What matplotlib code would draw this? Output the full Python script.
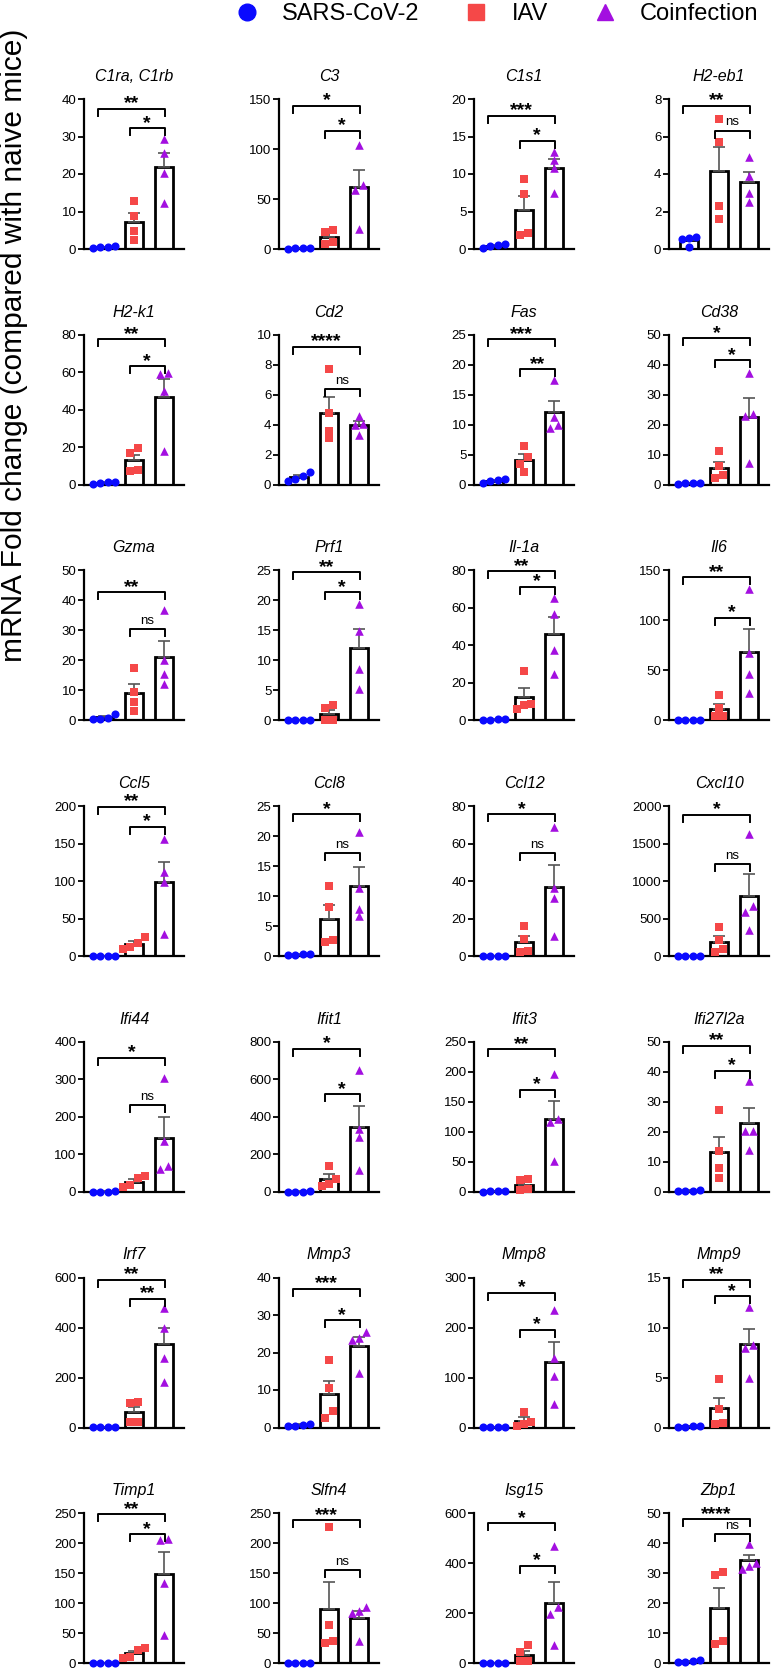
"""Fold change of 28 genes: SARS-CoV-2 vs IAV vs coinfection (bar + scatter + brackets)."""
import numpy as np
import matplotlib
matplotlib.use("Agg")
import matplotlib.pyplot as plt
from matplotlib import font_manager
from matplotlib.lines import Line2D

names = {f.name for f in font_manager.fontManager.ttflist}
NARROW = "Liberation Sans Narrow" if "Liberation Sans Narrow" in names else "Liberation Sans"
plt.rcParams["font.family"] = ["Liberation Sans", "DejaVu Sans"]

C_SARS, C_IAV, C_CO = "#0a0aff", "#f54848", "#a30fe0"

genes = ["C1ra, C1rb", "C3", "C1s1", "H2-eb1",
         "H2-k1", "Cd2", "Fas", "Cd38",
         "Gzma", "Prf1", "Il-1a", "Il6",
         "Ccl5", "Ccl8", "Ccl12", "Cxcl10",
         "Ifi44", "Ifit1", "Ifit3", "Ifi27l2a",
         "Irf7", "Mmp3", "Mmp8", "Mmp9",
         "Timp1", "Slfn4", "Isg15", "Zbp1"]
ymax = [40, 150, 20, 8, 80, 10, 25, 50, 50, 25, 80, 150, 200, 25, 80, 2000,
        400, 800, 250, 50, 600, 40, 300, 15, 250, 250, 600, 50]
ystep = [10, 50, 5, 2, 20, 2, 5, 10, 10, 5, 20, 50, 50, 5, 20, 500,
         100, 200, 50, 10, 200, 10, 100, 5, 50, 50, 200, 10]

sars = [[0.4, 0.5, 0.6, 0.7], [0.5, 0.8, 1.0, 1.2], [0.15, 0.45, 0.6, 0.65], [0.65, 0.6, 0.55, 0.1],
        [0.5, 1.2, 1.6, 1.0], [0.85, 0.6, 0.35, 0.25], [0.3, 0.6, 0.8, 0.9], [0.2, 0.5, 0.6, 0.7],
        [2.2, 0.8, 0.6, 0.5], [0.02, 0.02, 0.03, 0.02], [0.3, 0.5, 0.6, 0.4], [0.1, 0.2, 0.15, 0.1],
        [0.3, 0.5, 0.4, 0.2], [0.1, 0.3, 0.4, 0.2], [0.1, 0.2, 0.15, 0.1], [1, 2, 1.5, 1],
        [0.5, 1, 0.8, 0.6], [1, 2, 1.5, 1], [0.5, 1, 0.8, 0.6], [0.3, 0.4, 0.4, 0.5],
        [0.5, 1, 0.8, 0.6], [0.5, 0.8, 1.0, 0.4], [0.3, 0.6, 0.5, 0.4], [0.1, 0.2, 0.15, 0.05],
        [0.3, 0.5, 0.4, 0.2], [0.3, 0.5, 0.4, 0.2], [0.5, 1, 0.8, 0.6], [0.4, 1.0, 0.7, 0.5]]
iav = [[12.9, 8.7, 4.7, 2.4], [19, 17, 7, 5], [9.3, 7.3, 2.2, 1.9], [6.95, 5.7, 2.3, 1.6],
       [19.5, 17, 8, 7.5], [7.7, 4.8, 3.6, 3.1], [6.4, 4.6, 3.5, 2.1], [11.2, 6.1, 3.1, 2.2],
       [17.6, 9.4, 6.1, 3.3], [2.0, 2.5, 0.05, 0.05], [26.3, 8.9, 8.0, 6.2], [25, 12, 4, 4],
       [25, 18, 12, 10], [11.7, 8.1, 2.6, 2.3], [16.1, 9.3, 2.7, 2.2], [390, 220, 100, 60],
       [42, 36, 18, 12], [137, 69, 39, 30], [21, 19, 4, 3], [27.2, 13.6, 7.8, 4.7],
       [101, 99, 24, 24], [18, 10.5, 4.3, 2.5], [32, 12, 8, 4], [4.9, 1.9, 0.43, 0.4],
       [26, 22, 11, 8], [227, 63, 33, 37], [72, 44, 8, 8], [29.5, 30.3, 6.5, 7.5]]
coinf = [[29.3, 25.7, 20.3, 12.3], [103.7, 64.4, 58.7, 19.8], [12.9, 11.9, 10.8, 7.5], [4.9, 3.9, 3.0, 2.5],
         [59.8, 59.3, 50, 17.9], [4.58, 4.06, 3.97, 3.3], [17.5, 11.3, 10.0, 9.4], [37.2, 23.5, 22.9, 7.3],
         [36.9, 20, 15.6, 12], [19.4, 14.9, 8.6, 5.3], [65.4, 56.9, 37.7, 24.5], [131.7, 67.3, 46.7, 27.3],
         [155.7, 111.9, 98.4, 29], [20.7, 11.3, 7.9, 6.6], [68.9, 36.1, 30.8, 10.7], [1633, 671, 582, 345],
         [304, 135, 62, 68], [652, 333, 290, 114], [195.6, 120.6, 116.7, 52], [37.1, 20.2, 20.2, 14.1],
         [477, 400, 280, 181], [25.4, 23.8, 23.4, 14.5], [235, 139, 104, 47], [12.1, 8.3, 8.0, 5.0],
         [205.6, 206.7, 133.3, 47.2], [93, 87, 83, 37], [468, 224, 196, 72], [39.7, 33.5, 32.5, 31.5]]

# significance: SARS-CoV-2 vs coinfection, IAV vs coinfection
sig_sars = ["**", "*", "***", "**", "**", "****", "***", "*", "**", "**", "**", "**", "**", "*",
            "*", "*", "*", "*", "**", "**", "**", "***", "*", "**", "**", "***", "*", "****"]
sig_iav = ["*", "*", "*", "ns", "*", "ns", "**", "*", "ns", "*", "*", "*", "*", "ns",
           "ns", "ns", "ns", "*", "*", "*", "**", "*", "*", "*", "*", "ns", "*", "ns"]
# bracket heights as fraction of the axis maximum
br_top = [0.933, 0.955, 0.89, 0.955, 0.97, 0.92, 0.97, 0.975, 0.855, 0.987, 0.995, 0.955, 0.995, 0.945,
          0.946, 0.94, 0.893, 0.953, 0.95, 0.975, 0.985, 0.925, 0.9, 0.985, 0.993, 0.953, 0.933, 0.96]
br_low = [0.805, 0.79, 0.72, 0.79, 0.79, 0.64, 0.77, 0.83, 0.61, 0.853, 0.89, 0.685, 0.86, 0.69,
          0.69, 0.615, 0.578, 0.65, 0.68, 0.805, 0.86, 0.715, 0.65, 0.875, 0.86, 0.62, 0.65, 0.86]


def swarm(vals, top, gap=0.05, step=0.24):
    vals = np.asarray(vals, float)
    order = np.argsort(vals)
    offs = np.zeros(len(vals))
    groups = [[order[0]]]
    for i in order[1:]:
        if vals[i] - vals[groups[-1][-1]] < gap * top:
            groups[-1].append(i)
        else:
            groups.append([i])
    for g in groups:
        for k, i in enumerate(g):
            offs[i] = (k - (len(g) - 1) / 2) * step
    return offs


def bracket(ax, x0, x1, y, top, label):
    h = top * 7 / 150
    ax.plot([x0, x0, x1, x1], [y - h, y, y, y - h], color="k", lw=1.4, clip_on=False, zorder=5)
    if label == "ns":
        ax.annotate(label, ((x0 + x1) / 2, y), xytext=(0, 1.5), textcoords="offset points",
                    ha="center", va="bottom", fontsize=9.5, family=NARROW)
    else:
        # the asterisk sits high in its line box, so pull the box down a little
        ax.annotate(label, ((x0 + x1) / 2, y), xytext=(0, -2.5), textcoords="offset points",
                    ha="center", va="bottom", fontsize=14, fontweight="bold")


W, H = 773, 1668
fig = plt.figure(figsize=(W / 100, H / 100), dpi=100)
markers = [("o", C_SARS, 34), ("s", C_IAV, 28), ("^", C_CO, 38)]

for k, gene in enumerate(genes):
    r, c = divmod(k, 4)
    left, top_px = 84 + 195 * c, 99 + 235.7 * r
    ax = fig.add_axes([left / W, 1 - (top_px + 150) / H, 100 / W, 150 / H])
    top = ymax[k]
    groups = [sars[k], iav[k], coinf[k]]
    for x, (vals, (m, col, s)) in enumerate(zip(groups, markers)):
        vals = np.asarray(vals, float)
        mean = vals.mean()
        sem = vals.std(ddof=1) / np.sqrt(len(vals))
        ax.bar(x, mean, width=0.63, facecolor="white", edgecolor="k", lw=2.0, zorder=2)
        ax.errorbar(x, mean, yerr=[[0], [sem]], fmt="none", ecolor="#555555",
                    elinewidth=1.2, capsize=4, capthick=1.2, zorder=3)
        ax.scatter(x + swarm(vals, top), vals, marker=m, s=s, color=col,
                   linewidths=0, zorder=4, clip_on=False)
    bracket(ax, -0.2, 2.03, br_top[k] * top, top, sig_sars[k])
    bracket(ax, 0.85, 2.03, br_low[k] * top, top, sig_iav[k])
    ax.set_xlim(-0.67, 2.67)
    ax.set_ylim(0, top)
    ax.set_yticks(np.arange(0, top + ystep[k] / 2, ystep[k]))
    ax.set_xticks([])
    for sp in ("top", "right"):
        ax.spines[sp].set_visible(False)
    for sp in ("left", "bottom"):
        ax.spines[sp].set_linewidth(1.6)
    ax.tick_params(axis="y", length=4, width=1.3, pad=1.5, labelsize=9.5)
    for t in ax.get_yticklabels():
        t.set_family(NARROW)
    ax.set_title(gene, style="italic", fontsize=11.5, pad=13)

fig.text(14 / W, 1 - 345 / H, "mRNA Fold change (compared with naive mice)", rotation=90,
         ha="center", va="center", fontsize=21.5)

handles = [Line2D([], [], ls="none", marker=m, color=col, markersize=12) for m, col, s in markers]
fig.legend(handles, ["SARS-CoV-2", "IAV", "Coinfection"], loc="center",
           bbox_to_anchor=(0.635, 1 - 14 / H), ncol=3, frameon=False, fontsize=17,
           handletextpad=0.5, columnspacing=1.4, borderaxespad=0)

fig.savefig("out.png", dpi=100)
print("saved out.png")
